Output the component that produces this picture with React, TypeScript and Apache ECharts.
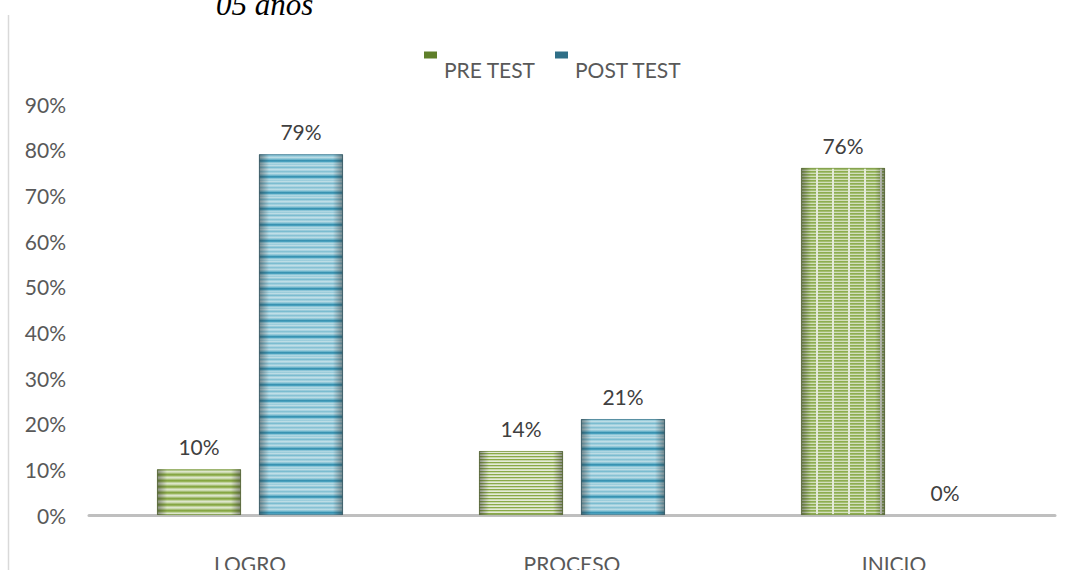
import React, { useEffect, useRef } from "react";
import * as echarts from "echarts";

const categories = ["LOGRO", "PROCESO", "INICIO"];
const preTest = [10, 14, 76];
const postTest = [79, 21, 0];
const yTicks = { min: 0, max: 90, interval: 10 };
const seriesNames = ["PRE TEST", "POST TEST"];
const titleText = "05 años";

function makePattern(w: number, rows: string[], vLines?: { every: number; color: string; width: number }) {
  const c = document.createElement("canvas");
  c.width = w;
  c.height = rows.length;
  const ctx = c.getContext("2d")!;
  rows.forEach((col, i) => {
    ctx.fillStyle = col;
    ctx.fillRect(0, i, w, 1);
  });
  if (vLines) {
    ctx.fillStyle = vLines.color;
    for (let x = 0; x < w; x += vLines.every) ctx.fillRect(x, 0, vLines.width, rows.length);
  }
  return { image: c, repeat: "repeat", imageWidth: w, imageHeight: rows.length } as any;
}

export default function App() {
  const ref = useRef<HTMLDivElement>(null);
  useEffect(() => {
    document.body.style.margin = "0";
    const chart = echarts.init(ref.current!, null, { renderer: "svg" });

    const greenWide = makePattern(8, ["#8aad45", "#9dbb5d", "#c8dba3", "#e6efd4", "#d3e3b5", "#aec77c"]);
    const greenThin = makePattern(8, ["#8fb04a", "#d2e2b2", "#eef4e2"]);
    const greenGrid = makePattern(16, ["#93b452", "#a9c576", "#dbe8c4"], { every: 16, color: "#eef4e2", width: 2 });
    const blue = makePattern(8, [
      "#3a98b9", "#4aa6c5", "#8fcde0", "#b6dfeb", "#a3d6e5", "#c4e6ef",
      "#9fd3e3", "#7fc4d9", "#a9d9e7", "#c8e8f1", "#b0dcea", "#8ccadd",
      "#a6d7e6", "#c0e4ee", "#9ad1e2", "#6fbcd4",
    ]);
    const prePatterns = [greenWide, greenThin, greenGrid];

    const edge = {
      type: "linear", x: 0, y: 0, x2: 1, y2: 0,
      colorStops: [
        { offset: 0, color: "rgba(40,40,40,0.5)" },
        { offset: 0.12, color: "rgba(40,40,40,0.05)" },
        { offset: 0.88, color: "rgba(40,40,40,0.05)" },
        { offset: 1, color: "rgba(40,40,40,0.5)" },
      ],
    };

    const font = "Lato";
    const fs = 21;
    const barCommon = { barWidth: 84, barGap: "21.4%" };
    const label = {
      show: true, position: "top", distance: 12, formatter: "{c}%",
      color: "#404040", fontSize: fs, fontFamily: font,
    };

    const legendBase = {
      top: 27, padding: 0, itemWidth: 13, itemHeight: 7, icon: "rect", formatter: "\n{name}",
      textStyle: { color: "#595959", fontSize: fs, fontFamily: font, lineHeight: 28, padding: [0, 0, 0, 2] },
    };

    chart.setOption({
      animation: false,
      grid: { left: 89, right: 14, top: 104, bottom: 55, outerBoundsMode: "none", containLabel: false },
      legend: [
        { ...legendBase, left: 424, data: [{ name: seriesNames[0], itemStyle: { color: "#5f7f2a" } }] },
        { ...legendBase, left: 555, data: [{ name: seriesNames[1], itemStyle: { color: "#2f6f87" } }] },
      ],
      xAxis: [
        {
          type: "category", data: categories,
          axisLine: { lineStyle: { color: "#bfbfbf", width: 3 } },
          axisTick: { show: false },
          axisLabel: { color: "#595959", fontSize: fs, fontFamily: font, margin: 38 },
        },
        { type: "category", data: categories, show: false },
      ],
      yAxis: {
        type: "value", min: yTicks.min, max: yTicks.max, interval: yTicks.interval,
        axisLine: { show: false }, axisTick: { show: false }, splitLine: { show: false },
        axisLabel: { formatter: "{value}%", color: "#595959", fontSize: fs, fontFamily: font, margin: 23 },
      },
      graphic: [
        { type: "line", shape: { x1: 8.5, y1: 15, x2: 8.5, y2: 570 }, style: { stroke: "#d9d9d9", lineWidth: 1.5 } },
        {
          type: "text", x: 216, y: 20,
          style: { text: titleText, font: "italic 31px 'Liberation Serif'", fill: "#000", verticalAlign: "bottom" },
        },
      ],
      series: [
        {
          name: seriesNames[0], type: "bar", ...barCommon,
          data: preTest.map((v, i) => ({
            value: v,
            itemStyle: { color: prePatterns[i], borderWidth: v === 0 ? 0 : 0.8 },
          })),
          itemStyle: { borderColor: "#7a9a3a" },
          label,
        },
        {
          name: seriesNames[1], type: "bar", ...barCommon,
          data: postTest.map((v) => ({ value: v, itemStyle: { borderWidth: v === 0 ? 0 : 0.8 } })),
          itemStyle: { color: blue, borderColor: "#3a7d95" },
          label,
        },
        {
          name: "_pre_edge", type: "bar", xAxisIndex: 1, ...barCommon, silent: true,
          data: preTest, itemStyle: { color: edge },
        },
        {
          name: "_post_edge", type: "bar", xAxisIndex: 1, ...barCommon, silent: true,
          data: postTest, itemStyle: { color: edge },
        },
      ],
    });
    return () => chart.dispose();
  }, []);
  return <div ref={ref} style={{ width: 1069, height: 570 }} />;
}
